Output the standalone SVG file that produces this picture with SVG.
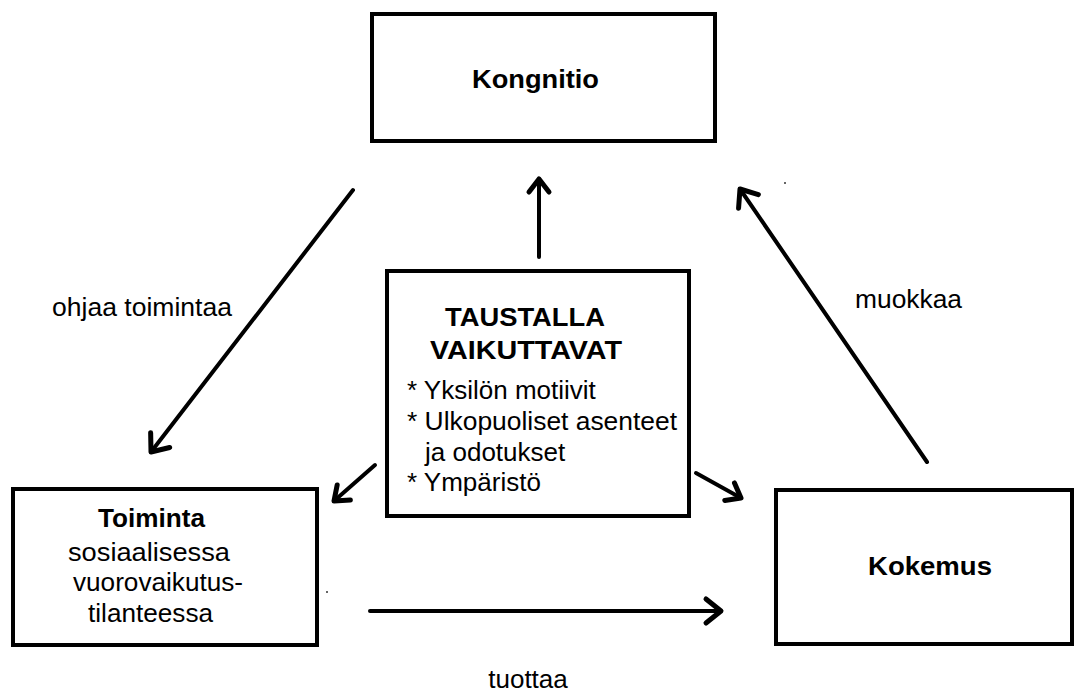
<svg xmlns="http://www.w3.org/2000/svg" width="1078" height="695" viewBox="0 0 1078 695">
  <defs>
    <style>
      .box { fill: #ffffff; stroke: #000000; stroke-width: 4; }
      .t { font-family: "Liberation Sans", Arial, sans-serif; font-size: 26px; fill: #000000; }
      .b { font-weight: bold; }
      .c { text-anchor: middle; }
      .ln { fill: none; stroke: #000000; stroke-width: 4; stroke-linecap: round; }
    </style>
    <marker id="ah" markerUnits="userSpaceOnUse" markerWidth="40" markerHeight="40" viewBox="-20 -20 40 40" refX="0" refY="0" orient="auto">
      <path d="M -15 -12 L 0 0 L -15 12" fill="none" stroke="#000000" stroke-width="5" stroke-linecap="round" stroke-linejoin="round"/>
    </marker>
    <marker id="ahs" markerUnits="userSpaceOnUse" markerWidth="40" markerHeight="40" viewBox="-20 -20 40 40" refX="0" refY="0" orient="auto">
      <path d="M -13 -10 L 0 0 L -13 10" fill="none" stroke="#000000" stroke-width="5" stroke-linecap="round" stroke-linejoin="round"/>
    </marker>
  </defs>
  <rect x="0" y="0" width="1078" height="695" fill="#ffffff"/>

  <g id="node-kongnitio">
    <rect class="box" x="372" y="14" width="343" height="127"/>
    <text class="t b" x="472" y="88" textLength="127" lengthAdjust="spacingAndGlyphs">Kongnitio</text>
  </g>

  <g id="node-taustalla">
    <rect class="box" x="387" y="271" width="302" height="245"/>
    <text class="t b" x="445" y="326" textLength="160" lengthAdjust="spacingAndGlyphs">TAUSTALLA</text>
    <text class="t b" x="430" y="359" textLength="192" lengthAdjust="spacingAndGlyphs">VAIKUTTAVAT</text>
    <text class="t" x="407" y="399">* Yksilön motiivit</text>
    <text class="t" x="407" y="430" textLength="270" lengthAdjust="spacingAndGlyphs">* Ulkopuoliset asenteet</text>
    <text class="t" x="425" y="461">ja odotukset</text>
    <text class="t" x="407" y="491">* Ympäristö</text>
  </g>

  <g id="node-toiminta">
    <rect class="box" x="13" y="489" width="304" height="156"/>
    <text class="t b" x="98" y="527" textLength="107" lengthAdjust="spacingAndGlyphs">Toiminta</text>
    <text class="t" x="68" y="561" textLength="162" lengthAdjust="spacingAndGlyphs">sosiaalisessa</text>
    <text class="t" x="73" y="591" textLength="170" lengthAdjust="spacingAndGlyphs">vuorovaikutus-</text>
    <text class="t" x="88" y="622" textLength="125" lengthAdjust="spacingAndGlyphs">tilanteessa</text>
  </g>

  <g id="node-kokemus">
    <rect class="box" x="776" y="490" width="296" height="154"/>
    <text class="t b" x="868" y="575" textLength="124" lengthAdjust="spacingAndGlyphs">Kokemus</text>
  </g>

  <g id="connectors">
    <line class="ln" x1="353" y1="190" x2="151" y2="452" marker-end="url(#ah)"/>
    <line class="ln" x1="539" y1="257" x2="539" y2="179" marker-end="url(#ahs)"/>
    <line class="ln" x1="375" y1="465" x2="334" y2="501" marker-end="url(#ahs)"/>
    <line class="ln" x1="696" y1="473" x2="741" y2="498" marker-end="url(#ahs)"/>
    <line class="ln" x1="927" y1="462" x2="740" y2="189" marker-end="url(#ah)"/>
    <line class="ln" x1="370" y1="611" x2="721" y2="611" marker-end="url(#ah)"/>
    <text class="t" x="52" y="316" textLength="180" lengthAdjust="spacingAndGlyphs">ohjaa toimintaa</text>
    <text class="t" x="855" y="308" textLength="107" lengthAdjust="spacingAndGlyphs">muokkaa</text>
    <text class="t c" x="528" y="688">tuottaa</text>
  </g>

  <circle cx="327" cy="592" r="1" fill="#333333"/>
  <circle cx="785" cy="183" r="1" fill="#333333"/>
</svg>
